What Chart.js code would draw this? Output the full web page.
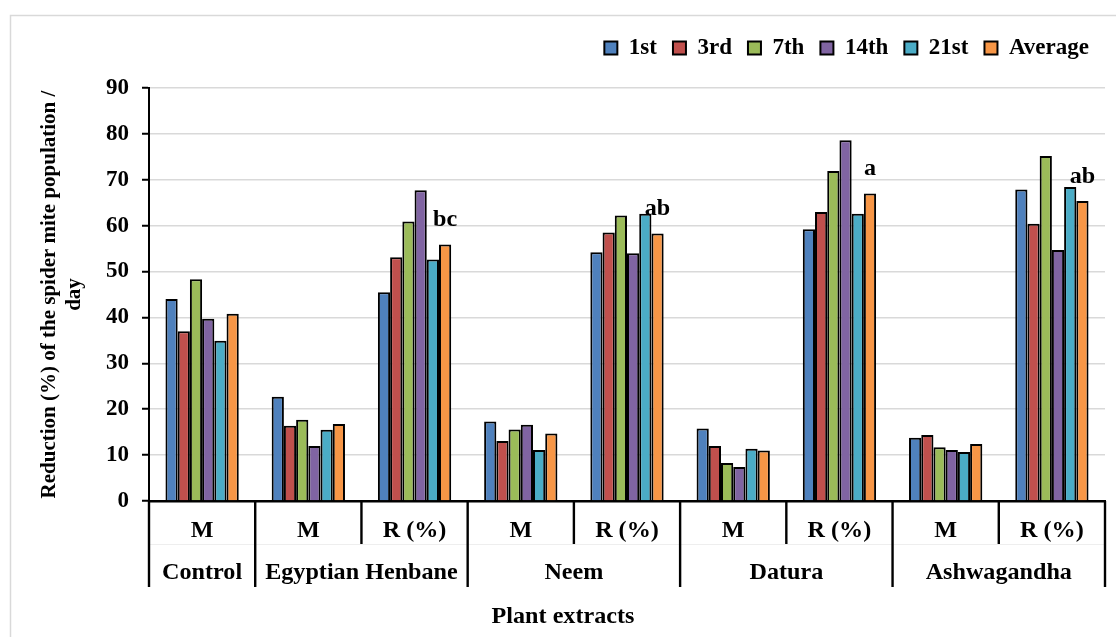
<!DOCTYPE html>
<html>
<head>
<meta charset="utf-8">
<script src="https://cdn.jsdelivr.net/npm/chart.js@4/dist/chart.umd.min.js"></script>
<style>
  html, body { margin: 0; padding: 0; background: #ffffff; }
  #wrap { width: 1116px; height: 637px; position: relative; }
</style>
</head>
<body>
<div id="wrap"><canvas id="c" width="1116" height="637"></canvas></div>
<script>
// ---- data ----
const subLabels = ['M', 'M', 'R (%)', 'M', 'R (%)', 'M', 'R (%)', 'M', 'R (%)'];
const groupNames = ['Control', 'Egyptian Henbane', 'Neem', 'Datura', 'Ashwagandha'];
const groupSizes = [1, 2, 2, 2, 2];
const seriesNames = ['1st', '3rd', '7th', '14th', '21st', 'Average'];
const day1st  = [44.0, 22.7, 45.5, 17.3, 54.2, 15.8, 59.2, 13.8, 67.9];
const day3rd  = [37.0, 16.4, 53.1, 13.1, 58.5, 12.0, 63.0, 14.4, 60.4];
const day7th  = [48.3, 17.7, 60.9, 15.6, 62.2,  8.3, 71.9, 11.7, 75.2];
const day14th = [39.7, 12.0, 67.7, 16.6, 54.0,  7.4, 78.6, 11.1, 54.7];
const day21st = [34.9, 15.5, 52.6, 11.1, 62.6, 11.4, 62.6, 10.7, 68.4];
const average = [40.8, 16.8, 55.9, 14.7, 58.3, 11.0, 67.0, 12.4, 65.4];
const letters = ['', '', 'bc', '', 'ab', '', 'a', '', 'ab'];
const yTicks = [0, 10, 20, 30, 40, 50, 60, 70, 80, 90];

const colors = ['#4F81BD', '#C0504D', '#9BBB59', '#8064A2', '#4BACC6', '#F79646'];
const allSeries = [day1st, day3rd, day7th, day14th, day21st, average];

const FONT = '"Liberation Serif", "Times New Roman", serif';

const framePlugin = {
  id: 'frame',
  beforeDraw(chart) {
    const ctx = chart.ctx;
    ctx.save();
    ctx.fillStyle = '#ffffff';
    ctx.fillRect(0, 0, chart.width, chart.height);
    ctx.strokeStyle = '#d9d9d9';
    ctx.lineWidth = 1.5;
    ctx.strokeRect(10.5, 15.5, chart.width + 20, chart.height + 20);
    ctx.restore();
  }
};

function wideText(ctx, text, x, y, sx) {
  ctx.save();
  ctx.translate(x, y);
  ctx.scale(sx, 1);
  ctx.fillText(text, 0, 0);
  ctx.restore();
}

const axisLabelsPlugin = {
  id: 'axisLabels',
  afterDraw(chart) {
    const ctx = chart.ctx;
    const xs = chart.scales.x;
    const bottom = chart.chartArea.bottom;
    const n = subLabels.length;
    const step = xs.getPixelForValue(1) - xs.getPixelForValue(0);
    const edge = i => xs.getPixelForValue(i) - step / 2;
    const row1 = bottom + 43;
    const row2 = bottom + 86;
    ctx.save();
    // faint row divider
    ctx.strokeStyle = '#eeeeee';
    ctx.lineWidth = 1;
    ctx.beginPath();
    ctx.moveTo(edge(0), row1 + 0.5);
    ctx.lineTo(edge(n), row1 + 0.5);
    ctx.stroke();
    // separators
    const groupEdges = [0];
    groupSizes.forEach(s => groupEdges.push(groupEdges[groupEdges.length - 1] + s));
    ctx.strokeStyle = '#000000';
    ctx.lineWidth = 2.4;
    for (let i = 0; i <= n; i++) {
      const x = edge(i);
      const isGroup = groupEdges.includes(i);
      ctx.beginPath();
      ctx.moveTo(x, bottom);
      ctx.lineTo(x, isGroup ? row2 : row1);
      ctx.stroke();
    }
    // sub labels
    ctx.fillStyle = '#000000';
    ctx.font = 'bold 23px ' + FONT;
    ctx.textAlign = 'center';
    ctx.textBaseline = 'middle';
    subLabels.forEach((t, i) => wideText(ctx, t, xs.getPixelForValue(i), bottom + 30, 1.05));
    // group labels
    groupNames.forEach((g, k) => {
      const cx = (edge(groupEdges[k]) + edge(groupEdges[k + 1])) / 2;
      wideText(ctx, g, cx, bottom + 72, 1.05);
    });
    // axis title
    wideText(ctx, 'Plant extracts', chart.width / 2 + 5, chart.height - 20, 1.05);
    // significance letters above Average bars
    const meta = chart.getDatasetMeta(allSeries.length - 1);
    letters.forEach((t, i) => {
      if (!t) return;
      const el = meta.data[i];
      wideText(ctx, t, el.x, el.y - 24, 1.05);
    });
    ctx.restore();
  }
};

const datasets = seriesNames.map((name, i) => ({
  label: name,
  data: allSeries[i],
  backgroundColor: colors[i],
  borderColor: '#000000',
  borderWidth: 2,
  barPercentage: 1.0,
  categoryPercentage: 0.69
}));

new Chart(document.getElementById('c'), {
  type: 'bar',
  data: { labels: subLabels, datasets },
  options: {
    responsive: false,
    animation: false,
    devicePixelRatio: 1,
    layout: { padding: { top: 20.5, left: 24, right: 11, bottom: 0 } },
    plugins: {
      legend: {
        position: 'top',
        align: 'end',
        labels: {
          boxWidth: 13,
          boxHeight: 13,
          padding: 16,
          color: '#000000',
          font: { family: FONT, size: 23, weight: 'bold' }
        }
      },
      title: {
        display: true,
        text: '',
        weight: 500,
        padding: { top: 8.5, bottom: 0 },
        font: { size: 10, lineHeight: 1 }
      },
      tooltip: { enabled: false }
    },
    scales: {
      x: {
        grid: { display: false },
        border: { display: true, color: '#000000', width: 2.5 },
        ticks: { display: false },
        afterFit(scale) { scale.height = 136; }
      },
      y: {
        min: 0,
        max: 90,
        afterBuildTicks(scale) { scale.ticks = yTicks.map(v => ({ value: v })); },
        grid: {
          color: '#d9d9d9',
          lineWidth: 1.5,
          tickColor: '#000000',
          tickLength: 7,
          tickWidth: 2
        },
        border: { display: true, color: '#000000', width: 2 },
        ticks: {
          padding: 13,
          color: '#000000',
          font: { family: FONT, size: 23, weight: 'bold' }
        },
        title: {
          display: true,
          text: ['Reduction (%) of the spider mite population /', 'day'],
          color: '#000000',
          font: { family: FONT, size: 21, weight: 'bold', lineHeight: 1.2 },
          padding: { top: 13, bottom: 0 }
        },
        afterFit(scale) { scale.width = 125; }
      }
    }
  },
  plugins: [framePlugin, axisLabelsPlugin]
});
</script>
</body>
</html>
